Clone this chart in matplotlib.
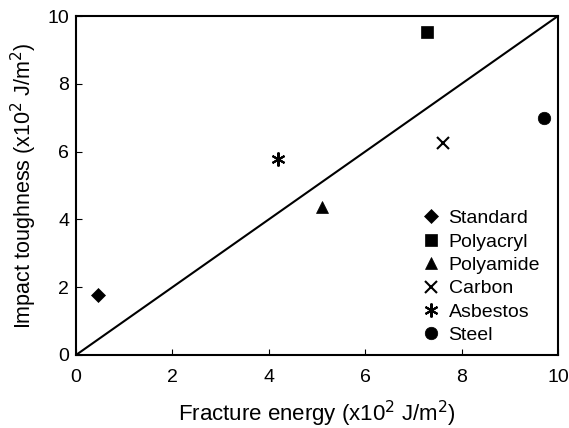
import matplotlib
matplotlib.use("Agg")
import matplotlib.pyplot as plt

plt.rcParams['font.family'] = ['Liberation Sans', 'DejaVu Sans']

names = ["Standard", "Polyacryl", "Polyamide", "Carbon", "Asbestos", "Steel"]
fracture = [0.46, 7.28, 5.10, 7.61, 4.19, 9.71]
toughness = [1.77, 9.53, 4.37, 6.25, 5.78, 7.00]
markers = ["D", "s", "^", "x", (6, 2, 0), "o"]
sizes = [7, 9, 9, 9, 10, 9]

line_x = [0, 10]
line_y = [0, 10]

fig = plt.figure(figsize=(5.69, 4.28), dpi=100)
ax = fig.add_axes([0.1336, 0.1706, 0.847, 0.792])

ax.plot(line_x, line_y, color="black", lw=1.5)
for n, fx, ty, m, s in zip(names, fracture, toughness, markers, sizes):
    ax.plot(fx, ty, linestyle="none", marker=m, markersize=s, color="black",
            markeredgewidth=1.5 if m in ("x", (6, 2, 0)) else 0.5, label=n)

ax.set_xlim(0, 10)
ax.set_ylim(0, 10)
ax.set_xticks([0, 2, 4, 6, 8, 10])
ax.set_yticks([0, 2, 4, 6, 8, 10])
ax.tick_params(direction="in", length=4, labelsize=14)
ax.tick_params(axis="x", pad=10)
ax.tick_params(axis="y", pad=5)
for sp in ax.spines.values():
    sp.set_linewidth(1.5)

ax.set_xlabel("Fracture energy (x10$^2$ J/m$^2$)", fontsize=16, labelpad=9)
ax.set_ylabel("Impact toughness (x10$^2$ J/m$^2$)", fontsize=15.5, labelpad=6)

ax.legend(loc="lower right", frameon=False, fontsize=14, handlelength=0.8,
          handletextpad=0.5, labelspacing=0.3, borderaxespad=0.15,
          bbox_to_anchor=(0.985, 0.0))

fig.savefig("out.png", dpi=100)
